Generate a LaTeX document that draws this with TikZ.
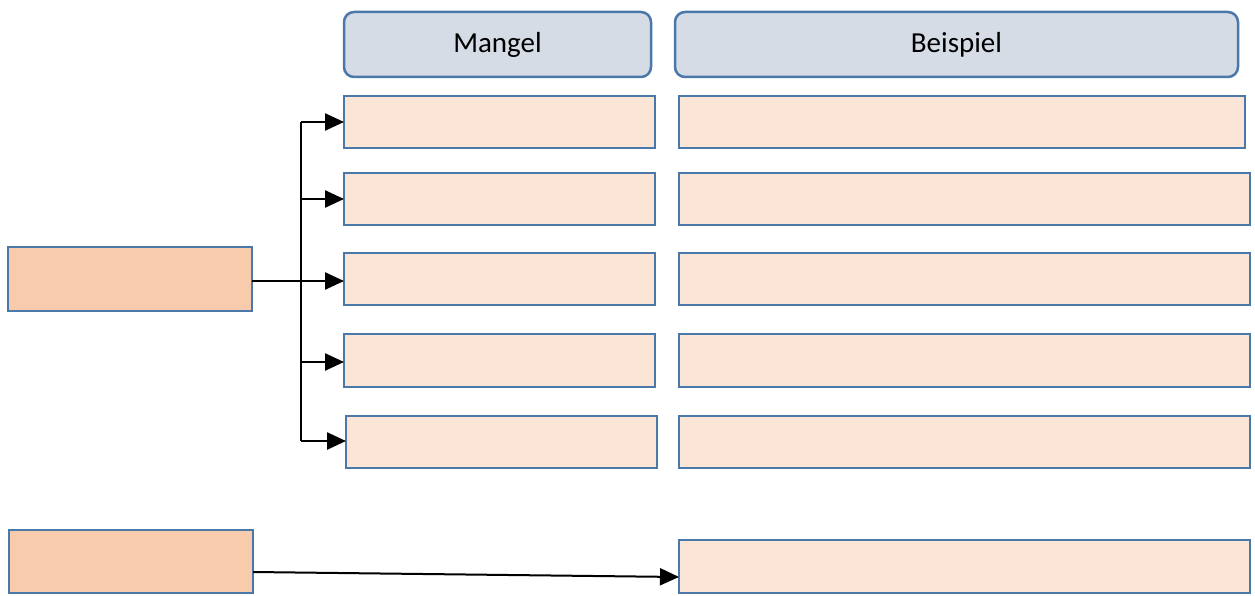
\documentclass[tikz,border=0pt]{standalone}
\usepackage{fontspec}
\setmainfont{Carlito}
\usetikzlibrary{arrows.meta}
\definecolor{hdrfill}{HTML}{D6DCE5}
\definecolor{edge}{HTML}{4A78A8}
\definecolor{lightbox}{HTML}{FBE5D6}
\definecolor{darkbox}{HTML}{F8CBAD}
\tikzset{
  hdr/.style={draw=edge, line width=2.5pt, fill=hdrfill, rounded corners=10pt},
  hdrtext/.style={font=\fontsize{29}{33}\selectfont},
  cell/.style={draw=edge, line width=2.5pt, fill=lightbox},
  src/.style={draw=edge, line width=2.5pt, fill=darkbox},
  conn/.style={line width=2.5pt, -{Triangle[length=19pt,width=17pt]}},
  plain/.style={line width=2.5pt}
}
\begin{document}
\begin{tikzpicture}[x=1pt,y=-1pt]
\useasboundingbox (0,0) rectangle (1255,596);
% headers
\draw[hdr] (344,12) rectangle (651,77);
\node[hdrtext] (hm) at (497.5,45) {Mangel};
\draw[hdr] (675,12) rectangle (1238,77);
\node[hdrtext] (hb) at (956.5,45) {Beispiel};
% mangel cells
\draw[cell] (344,96) rectangle (655,148);
\coordinate (m1) at (344,122);
\draw[cell] (344,173) rectangle (655,225);
\coordinate (m2) at (344,199);
\draw[cell] (344,253) rectangle (655,305);
\coordinate (m3) at (344,281);
\draw[cell] (344,334) rectangle (655,387);
\coordinate (m4) at (344,362);
\draw[cell] (346,416) rectangle (657,468);
\coordinate (m5) at (346,441);
% beispiel cells
\draw[cell] (679,96) rectangle (1245,148);
\draw[cell] (679,173) rectangle (1250,225);
\draw[cell] (679,253) rectangle (1250,305);
\draw[cell] (679,334) rectangle (1250,387);
\draw[cell] (679,416) rectangle (1250,468);
\draw[cell] (679,540) rectangle (1250,593);
\coordinate (b6) at (679,577);
% source boxes
\draw[src] (8,247) rectangle (252,311);
\coordinate (s1) at (252,281);
\draw[src] (9,530) rectangle (253,593);
\coordinate (s2) at (253,572);
% connectors
\coordinate (jt) at (301,122);
\coordinate (j2) at (301,199);
\coordinate (j4) at (301,362);
\coordinate (jb) at (301,441);
\draw[plain] (jt) -- (jb);
\draw[conn] (s1) -- (m3);
\draw[conn] (jt) -- (m1);
\draw[conn] (j2) -- (m2);
\draw[conn] (j4) -- (m4);
\draw[conn] (jb) -- (m5);
\draw[line width=2pt, -{Triangle[length=19pt,width=17pt]}] (s2) -- (b6);
\end{tikzpicture}
\end{document}
